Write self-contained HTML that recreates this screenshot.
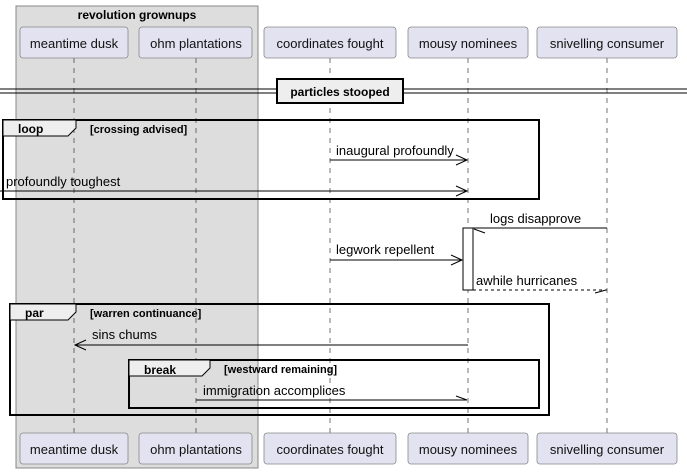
<!DOCTYPE html>
<html><head><style>body{margin:0;background:#fff}svg{display:block}</style></head><body>
<svg width="687" height="473" xmlns="http://www.w3.org/2000/svg" font-family="Liberation Sans, sans-serif" font-size="13">
<rect x="16" y="6" width="242" height="462" fill="#DDDDDD" stroke="#888" stroke-width="1"/>
<text x="137" y="19" text-anchor="middle" font-weight="bold" font-size="12">revolution grownups</text>
<g stroke="#181818" stroke-width="0.6" stroke-dasharray="5,5">
<line x1="74" y1="58" x2="74" y2="433"/><line x1="196" y1="58" x2="196" y2="433"/>
<line x1="330" y1="58" x2="330" y2="433"/><line x1="468" y1="58" x2="468" y2="433"/>
<line x1="607" y1="58" x2="607" y2="433"/>
</g>
<g fill="#E2E2F0" stroke="#888" stroke-width="0.8">
<rect x="20" y="27" width="108" height="31" rx="3"/><rect x="139" y="27" width="113" height="31" rx="3"/>
<rect x="264" y="27" width="132" height="31" rx="3"/><rect x="408" y="27" width="120" height="31" rx="3"/>
<rect x="537" y="27" width="140" height="31" rx="3"/>
<rect x="20" y="433" width="108" height="31" rx="3"/><rect x="139" y="433" width="113" height="31" rx="3"/>
<rect x="264" y="433" width="132" height="31" rx="3"/><rect x="408" y="433" width="120" height="31" rx="3"/>
<rect x="537" y="433" width="140" height="31" rx="3"/>
</g>
<g text-anchor="middle" fill="#111">
<text x="74" y="48">meantime dusk</text><text x="196" y="48">ohm plantations</text>
<text x="330" y="48">coordinates fought</text><text x="468" y="48">mousy nominees</text>
<text x="607" y="48">snivelling consumer</text>
<text x="74" y="454">meantime dusk</text><text x="196" y="454">ohm plantations</text>
<text x="330" y="454">coordinates fought</text><text x="468" y="454">mousy nominees</text>
<text x="607" y="454">snivelling consumer</text>
</g>
<line x1="0" y1="89" x2="687" y2="89" stroke="#000"/><line x1="0" y1="93" x2="687" y2="93" stroke="#000"/>
<rect x="277" y="79" width="126" height="24" fill="#EEE" stroke="#000" stroke-width="2"/>
<text x="340" y="96" text-anchor="middle" font-weight="bold" font-size="12">particles stooped</text>
<rect x="3" y="120" width="536" height="79" fill="none" stroke="#000" stroke-width="2"/>
<path d="M3 120 H76 V128 L68 136 H3 Z" fill="#EEE" stroke="#000" stroke-width="1"/>
<text x="18" y="133" font-weight="bold" font-size="12">loop</text>
<text x="90" y="133" font-weight="bold" font-size="11">[crossing advised]</text>
<g stroke="#000" fill="none">
<line x1="330" y1="160" x2="467" y2="160"/><path d="M456 155 L467 160 L456 165"/>
<line x1="0" y1="191" x2="467" y2="191"/><path d="M456 186 L467 191 L456 196"/>
</g>
<text x="336" y="155">inaugural profoundly</text>
<text x="6" y="186">profoundly toughest</text>
<rect x="463" y="228" width="10" height="62" fill="#fff" stroke="#000"/>
<g stroke="#000" fill="none">
<line x1="473" y1="228" x2="607" y2="228"/><path d="M485 233 L474 229"/>
<line x1="330" y1="260" x2="462" y2="260"/><path d="M451 255 L462 260 L451 265"/>
<line x1="473" y1="290" x2="607" y2="290" stroke-dasharray="3,3"/><path d="M595 293 L606 290"/>
</g>
<text x="490" y="223">logs disapprove</text>
<text x="336" y="254">legwork repellent</text>
<text x="476" y="285">awhile hurricanes</text>
<rect x="10" y="304" width="539" height="111" fill="none" stroke="#000" stroke-width="2"/>
<path d="M10 304 H76 V312 L68 320 H10 Z" fill="#EEE" stroke="#000"/>
<text x="25" y="317" font-weight="bold" font-size="12">par</text>
<text x="90" y="317" font-weight="bold" font-size="11">[warren continuance]</text>
<g stroke="#000" fill="none">
<line x1="75" y1="345" x2="468" y2="345"/><path d="M86 340 L75 345 L86 350"/>
</g>
<text x="92" y="339">sins chums</text>
<rect x="129" y="360" width="410" height="48" fill="none" stroke="#000" stroke-width="2"/>
<path d="M129 360 H210 V368 L202 376 H129 Z" fill="#EEE" stroke="#000"/>
<text x="144" y="374" font-weight="bold" font-size="12">break</text>
<text x="224" y="373" font-weight="bold" font-size="11">[westward remaining]</text>
<g stroke="#000" fill="none">
<line x1="196" y1="400" x2="467" y2="400"/><path d="M456 396 L467 400"/>
</g>
<text x="203" y="395">immigration accomplices</text>
</svg>
</body></html>
